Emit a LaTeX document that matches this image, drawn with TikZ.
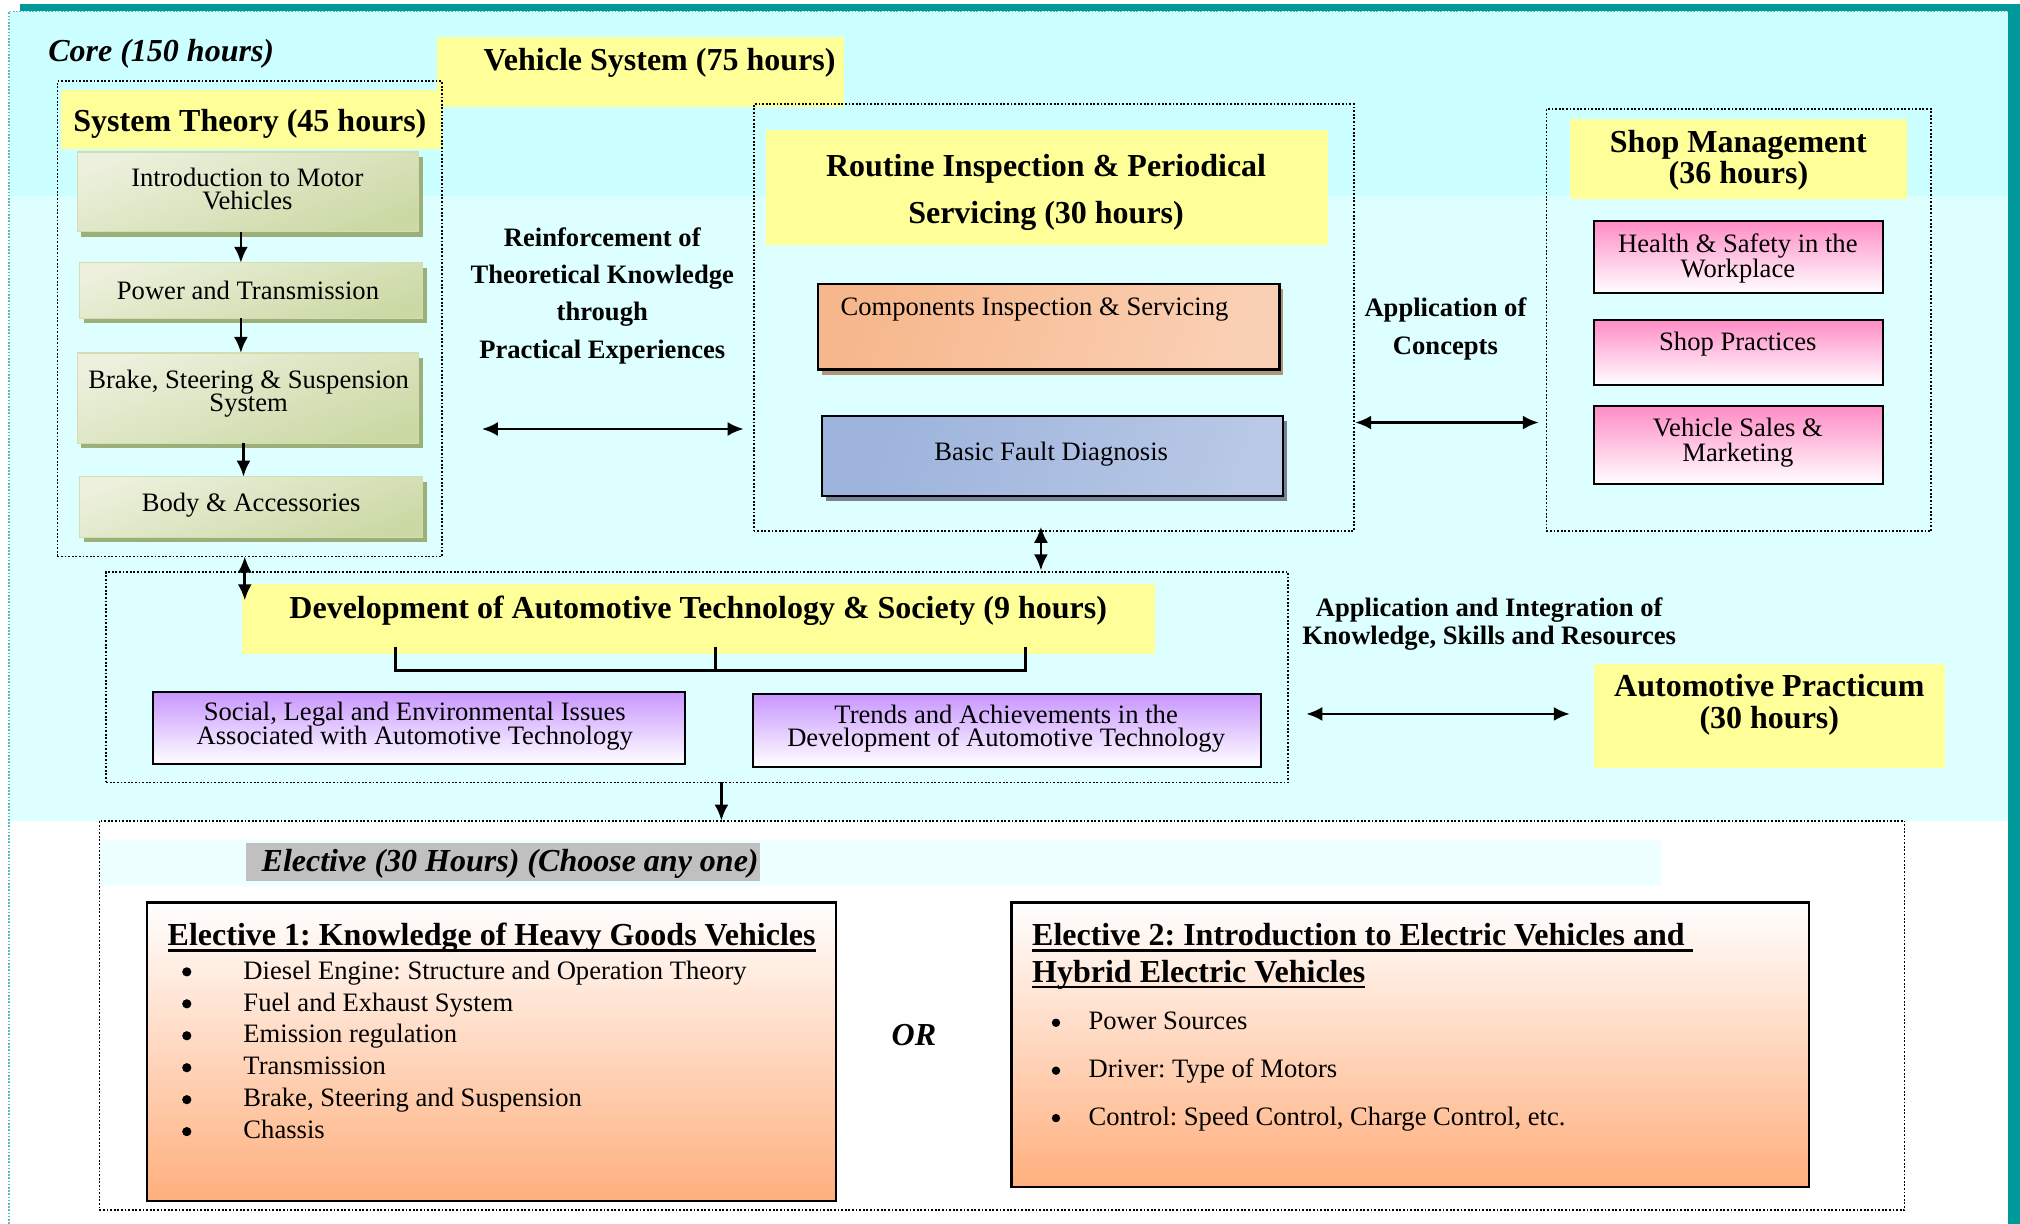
\documentclass[tikz,border=0pt]{standalone}
\usepackage{fontspec}
\setmainfont{Liberation Serif}
\usetikzlibrary{arrows.meta,fit,shadows}

\definecolor{frameteal}{RGB}{0,153,153}
\definecolor{bandtop}{RGB}{204,255,255}
\definecolor{bandmid}{RGB}{221,255,255}
\definecolor{bandpale}{RGB}{238,255,255}
\definecolor{hdyellow}{RGB}{255,255,153}
\definecolor{grnlight}{RGB}{236,240,220}
\definecolor{grndark}{RGB}{203,217,165}
\definecolor{grnedge}{RGB}{210,222,178}
\definecolor{grnshadow}{RGB}{156,175,120}
\definecolor{orgdark}{RGB}{247,183,140}
\definecolor{orglight}{RGB}{253,236,224}
\definecolor{orgright}{RGB}{250,208,180}
\definecolor{compshadow}{RGB}{176,150,120}
\definecolor{bludark}{RGB}{157,179,220}
\definecolor{blulight}{RGB}{228,232,242}
\definecolor{bluright}{RGB}{184,200,230}
\definecolor{basshadow}{RGB}{120,132,150}
\definecolor{pinktop}{RGB}{255,140,198}
\definecolor{purptop}{RGB}{200,150,255}
\definecolor{elbottom}{RGB}{255,175,125}
\definecolor{labelgrey}{RGB}{192,192,192}

\newcommand\bodyfont[1]{\fontsize{13.3pt}{#1pt}\selectfont\lineskiplimit=-50pt\relax}
\newcommand\boldfont[1]{\fontsize{13.3pt}{#1pt}\selectfont\bfseries\lineskiplimit=-50pt\relax}
\newcommand\headfont[1]{\fontsize{16pt}{#1pt}\selectfont\bfseries\lineskiplimit=-50pt\relax}
\newcommand\hditfont{\fontsize{16pt}{16pt}\selectfont\bfseries\itshape}
\newcommand\thickul[1]{\setbox0\hbox{#1}\rlap{\rule[-3.2pt]{\wd0}{1.3pt}}\box0}

\tikzset{
  dotbox/.style={draw=black, line width=0.9pt, dash pattern=on 0.9pt off 0.9pt},
  ylwbox/.style={fill=hdyellow},
  greenbox/.style={top color=grnlight, bottom color=grndark, shading angle=20,
    draw=grnedge, line width=0.6pt,
    drop shadow={shadow xshift=2pt, shadow yshift=-2.6pt, fill=grnshadow, opacity=1}},
  compbox/.style={left color=orgdark, middle color=orglight, right color=orgright,
    shading angle=70, draw=black, line width=1.3pt,
    drop shadow={shadow xshift=2pt, shadow yshift=-2.4pt, fill=compshadow, opacity=1}},
  basicbox/.style={left color=bludark, middle color=blulight, right color=bluright,
    shading angle=70, draw=black, line width=1.3pt,
    drop shadow={shadow xshift=2pt, shadow yshift=-2.4pt, fill=basshadow, opacity=1}},
  pinkbox/.style={top color=pinktop, bottom color=white, draw=black, line width=1pt},
  purpbox/.style={top color=purptop, bottom color=white, draw=black, line width=1pt},
  electbox/.style={top color=white, bottom color=elbottom, draw=black, line width=1.2pt},
  bulletdot/.style={circle, fill=black, minimum size=#1},
  arr/.style={line width=1.3pt, -{Latex[length=8pt,width=7pt]}},
  dbl/.style={line width=1.3pt, {Latex[length=8pt,width=7pt]}-{Latex[length=8pt,width=7pt]}},
  bracketline/.style={line width=1.4pt},
}

\begin{document}
\frenchspacing
\begin{tikzpicture}[x=0.644pt, y=-0.644pt, every node/.style={inner sep=0pt, outer sep=0pt}]
\useasboundingbox (0,0) rectangle (1568,950);
\fill[white] (0,0) rectangle (1568,950);

% background bands and frame
\fill[bandtop] (7,9) rectangle (1559,152);
\fill[bandmid] (7,152) rectangle (1559,637);
\fill[frameteal] (15.5,3) rectangle (1568,8.5);
\fill[frameteal] (1559,3) rectangle (1568,950);
\draw[frameteal!65, line width=0.8pt, dash pattern=on 0.8pt off 0.8pt] (7,950) -- (7,9) -- (1559,9);

% core title
\node[anchor=west, font=\hditfont] (core) at (37.5,42) {Core (150 hours)};

% yellow headings
\node[ylwbox, fit={(47,70) (343,116)}] (sthd) {};
\node[ylwbox, fit={(339,29) (655,83)}] (vshd) {};
\node[ylwbox, fit={(594.5,101) (1030.5,190)}] (rthd) {};
\node[ylwbox, fit={(1218.7,92.7) (1480,154.5)}] (smhd) {};
\node[ylwbox, fit={(188,453.5) (896.7,507.8)}] (devhd) {};
\node[ylwbox, fit={(1237.2,515.7) (1509.5,595.9)}] (prac) {};

\node[font=\headfont{16}] (vsyst) at (512,49) {Vehicle System (75 hours)};
\node[font=\headfont{16}] (stt) at (194,96.5) {System Theory (45 hours)};
\node[font=\headfont{23.8}, align=center] (rtt) at (812,149.5) {Routine Inspection \& Periodical\\Servicing (30 hours)};
\node[font=\headfont{15.7}, align=center] (smt) at (1349.4,124.5) {Shop Management\\(36 hours)};
\node[font=\headfont{16}] (devt) at (542,474.3) {Development of Automotive Technology \& Society (9 hours)};
\node[font=\headfont{15.9}, align=center] (pract) at (1373.4,547.4) {Automotive Practicum\\(30 hours)};

% dotted containers
\node[dotbox, fit={(44.6,63) (343,432)}] (stbox) {};
\node[dotbox, fit={(585,81) (1051,412)}] (rtbox) {};
\node[dotbox, fit={(1200.4,84.7) (1499,412.4)}] (smbox) {};
\node[dotbox, fit={(82.4,444) (1000,607.4)}] (devbox) {};

% system theory units
\node[greenbox, fit={(60,118) (325,180)}] (g1) {};
\node[greenbox, fit={(62,204) (328,247)}] (g2) {};
\node[greenbox, fit={(60,274) (325,344)}] (g3) {};
\node[greenbox, fit={(62,370) (328,417)}] (g4) {};
\node[font=\bodyfont{11.7}, align=center] (g1t) at (192,146.6) {Introduction to Motor\\Vehicles};
\node[font=\bodyfont{11.7}] (g2t) at (192.5,225.8) {Power and Transmission};
\node[font=\bodyfont{11.7}, align=center] (g3t) at (193,305.7) {Brake, Steering \& Suspension\\System};
\node[font=\bodyfont{11.7}] (g4t) at (195,392) {Body \& Accessories};
\draw[arr] (g1.south -| 187,0) -- (g2.north -| 187,0);
\draw[arr] (g2.south -| 187,0) -- (g3.north -| 187,0);
\draw[arr] (g3.south -| 189,0) -- (g4.north -| 189,0);

% routine inspection units
\node[compbox, fit={(635,220.5) (993,287)}] (comp) {};
\node[font=\bodyfont{12}] (compt) at (803,240.6) {Components Inspection \& Servicing};
\node[basicbox, fit={(638,323) (996,385)}] (basic) {};
\node[font=\bodyfont{12}] (basict) at (816,352.7) {Basic Fault Diagnosis};

% shop management units
\node[pinkbox, fit={(1237.6,171.4) (1461.8,227.3)}] (p1) {};
\node[pinkbox, fit={(1237.6,248.7) (1461.8,298.6)}] (p2) {};
\node[pinkbox, fit={(1237.6,315.5) (1461.8,375.8)}] (p3) {};
\node[font=\bodyfont{12.5}, align=center] (p1t) at (1349,200.5) {Health \& Safety in the\\Workplace};
\node[font=\bodyfont{12.5}] (p2t) at (1349,267.4) {Shop Practices};
\node[font=\bodyfont{12.5}, align=center] (p3t) at (1349,343.5) {Vehicle Sales \&\\Marketing};

% development units
\node[purpbox, fit={(119,537.4) (531.7,593.3)}] (u1) {};
\node[purpbox, fit={(584.5,539) (979,595)}] (u2) {};
\node[font=\bodyfont{11.8}, align=center] (u1t) at (322,563.8) {Social, Legal and Environmental Issues\\Associated with Automotive Technology};
\node[font=\bodyfont{11.8}, align=center] (u2t) at (781,565.5) {Trends and Achievements in the\\Development of Automotive Technology};
\coordinate (brA) at (307,502);
\coordinate (brB) at (555.5,502);
\coordinate (brC) at (796.3,502);
\draw[bracketline] (brA) -- (307,520.3) -- (796.3,520.3) -- (brC);
\draw[bracketline] (brB) -- (555.5,520.3);

% connecting labels
\node[font=\boldfont{18.7}, align=center] (reinf) at (467.5,229.5) {Reinforcement of\\Theoretical Knowledge\\through\\Practical Experiences};
\node[font=\boldfont{18.8}, align=center] (appc) at (1122,255.2) {Application of\\Concepts};
\node[font=\boldfont{14.2}, align=center] (appi) at (1156,484.6) {Application and Integration of\\Knowledge, Skills and Resources};

% connectors
\draw[dbl, shorten <=20pt, shorten >=5pt] (stbox.east |- 0,333) -- (rtbox.west |- 0,333);
\draw[dbl, shorten <=0.6pt, shorten >=3.8pt] (rtbox.east |- 0,328) -- (smbox.west |- 0,328);
\draw[dbl, shorten <=9pt, shorten >=12pt] (devbox.east |- 0,554.2) -- (prac.west |- 0,554.2);
\draw[dbl] (stbox.south -| 190,0) -- (190,466);
\draw[dbl, shorten <=-2pt, shorten >=0.8pt] (rtbox.south -| 808,0) -- (devbox.north -| 808,0);

% elective block
\node[dotbox, fit={(77.2,637) (1478.3,939.5)}] (elbox) {};
\draw[arr] (devbox.south -| 560,0) -- (elbox.north -| 560,0);
\fill[bandpale] (78,652) rectangle (1289,688);
\node[fill=labelgrey, fit={(191,654.4) (589.6,683.7)}] (ellab) {};
\node[font=\hditfont] (ellabt) at (396,670.9) {Elective (30 Hours) (Choose any one)};

\node[electbox, fit={(114,700.5) (649,932.3)}] (e1) {};
\node[electbox, fit={(785.3,700.5) (1404.1,921.4)}] (e2) {};
\node[font=\hditfont] (or) at (709.4,803.7) {OR};

\node[anchor=base west, font=\headfont{16}] (e1t) at (130.2,733.7) {\thickul{Elective 1: Knowledge of Heavy Goods Vehicles}};
\foreach \t [count=\i] in {{Diesel Engine: Structure and Operation Theory},{Fuel and Exhaust System},{Emission regulation},{Transmission},{Brake, Steering and Suspension},{Chassis}}{
  \pgfmathsetmacro\yy{760+(\i-1)*24.8}
  \node[bulletdot=4.6pt] (e1b\i) at (145,\yy-5.6) {};
  \node[anchor=base west, font=\bodyfont{12}] (e1i\i) at (189,\yy) {\t};
}

\node[anchor=base west, font=\headfont{16}] (e2t1) at (801.2,733.7) {\thickul{Elective 2: Introduction to Electric Vehicles and\ }};
\node[anchor=base west, font=\headfont{16}] (e2t2) at (801.2,762.3) {\thickul{Hybrid Electric Vehicles}};
\foreach \t/\yy [count=\i] in {{Power Sources}/799.5,{Driver: Type of Motors}/836.7,{Control: Speed Control, Charge Control, etc.}/873.5}{
  \node[bulletdot=4.2pt] (e2b\i) at (819.7,\yy-5.6) {};
  \node[anchor=base west, font=\bodyfont{12}] (e2i\i) at (845,\yy) {\t};
}
\end{tikzpicture}
\end{document}
